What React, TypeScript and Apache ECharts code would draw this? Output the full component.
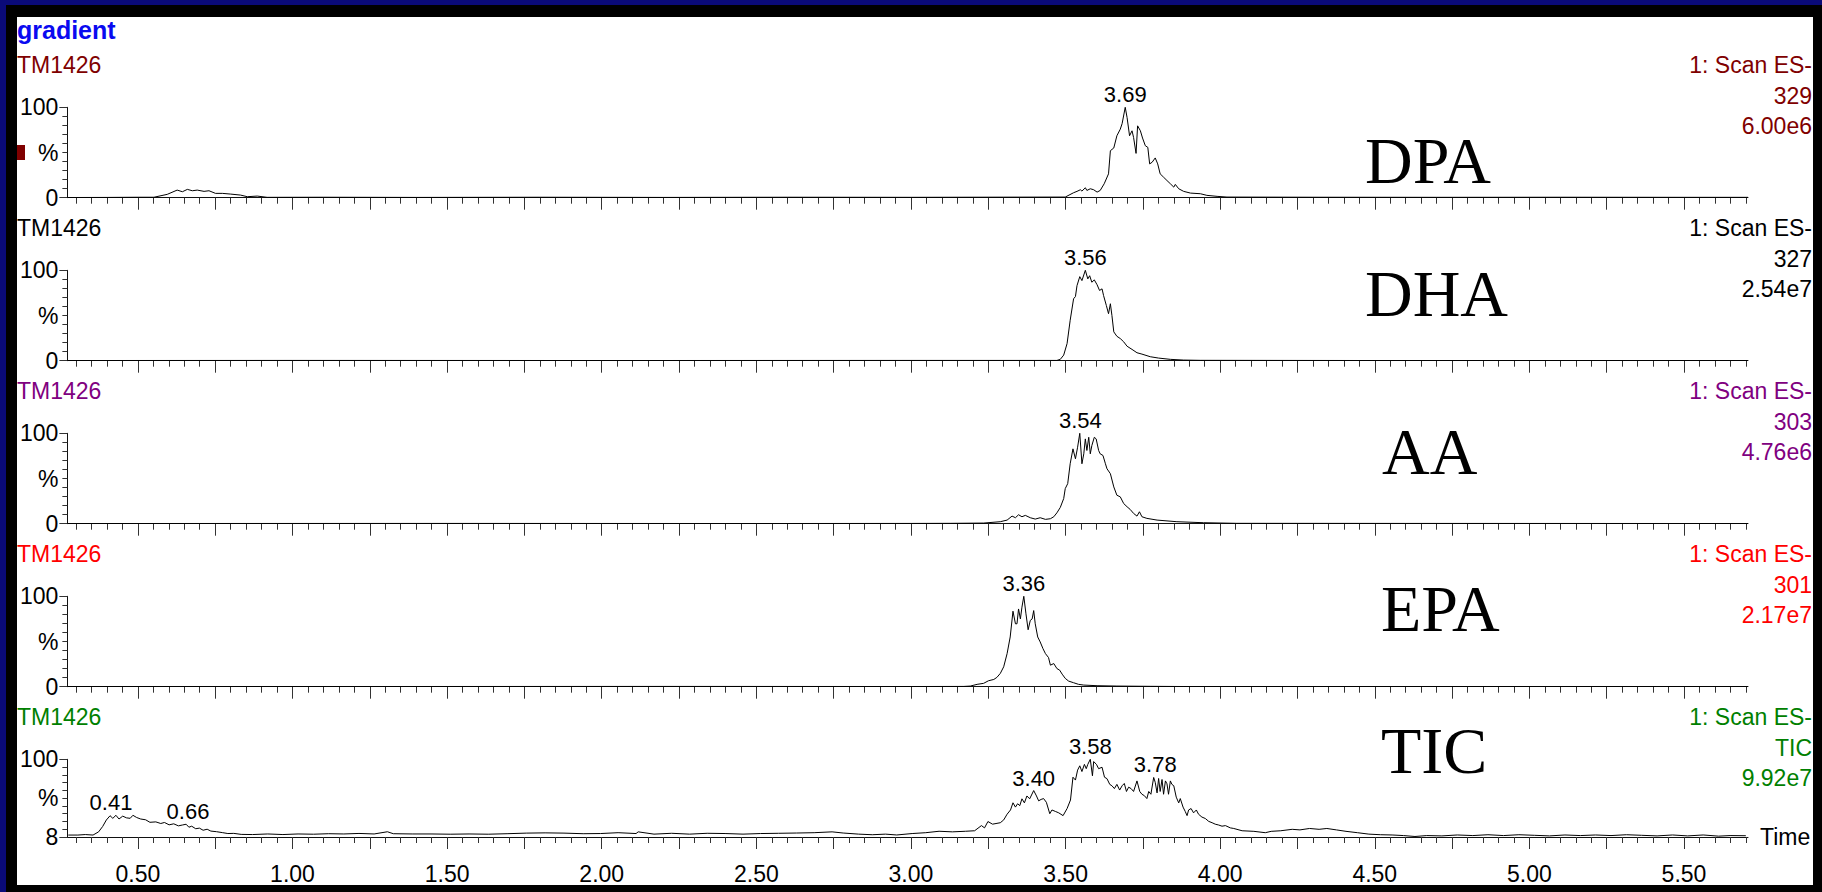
import React, { useEffect, useRef } from "react";
import * as echarts from "echarts";

// ---------------- data ----------------
const X_MIN = 0.272;
const X_MAX = 5.707;

const channelNames = ["DPA", "DHA", "AA", "EPA", "TIC"];
const sampleLabel = "TM1426";
const scanLabel = "1: Scan ES-";
const massLabels = ["329", "327", "303", "301", "TIC"];
const intensityLabels = ["6.00e6", "2.54e7", "4.76e6", "2.17e7", "9.92e7"];
const panelColors = ["#800000", "#000000", "#800080", "#ff0000", "#008000"];
const yBottomLabels = ["0", "0", "0", "0", "8"];
const yMinValues = [0, 0, 0, 0, 8];
const xLabelValues = [0.5, 1.0, 1.5, 2.0, 2.5, 3.0, 3.5, 4.0, 4.5, 5.0, 5.5];
const xMajorTickValues = [
  0.5, 0.75, 1.0, 1.25, 1.5, 1.75, 2.0, 2.25, 2.5, 2.75, 3.0, 3.25, 3.5, 3.75,
  4.0, 4.25, 4.5, 4.75, 5.0, 5.25, 5.5,
];

const dpaTrace = [
  [0.272, 0.2], [0.4, 0.3], [0.5, 0.5], [0.552, 0.5], [0.595, 3.7], [0.627, 8.4],
  [0.644, 6.6], [0.66, 9.2], [0.676, 7.7], [0.692, 8.4], [0.714, 7.0], [0.73, 7.7],
  [0.751, 4.8], [0.773, 4.8], [0.8, 4.0], [0.832, 2.9], [0.854, 1.1], [0.886, 1.8],
  [0.918, 0.4], [1.1, 0.5], [1.4, 0.3], [1.8, 0.5], [2.2, 0.3], [2.6, 0.5], [3.0, 0.4],
  [3.3, 0.6], [3.499, 0.7], [3.526, 5.5], [3.537, 7.0], [3.548, 8.8], [3.553, 7.3],
  [3.564, 11.0], [3.569, 8.0], [3.58, 9.9], [3.591, 8.8], [3.602, 6.2], [3.612, 8.0],
  [3.625, 15.4], [3.639, 26.4], [3.645, 52], [3.656, 55], [3.666, 68.5], [3.677, 75.8],
  [3.683, 82], [3.693, 100], [3.699, 88.6], [3.707, 68.5], [3.715, 74], [3.72, 66.7],
  [3.728, 49], [3.733, 79.5], [3.742, 74], [3.749, 66], [3.758, 57.5], [3.766, 55.7],
  [3.772, 37.4], [3.78, 39.2], [3.79, 44], [3.798, 37.4], [3.806, 26.4], [3.817, 22.7],
  [3.828, 19], [3.839, 15.4], [3.85, 11.7], [3.855, 14.7], [3.866, 9.9], [3.882, 7.0],
  [3.904, 5.1], [3.936, 4.4], [3.957, 2.6], [3.99, 1.5], [4.022, 0.7], [4.3, 0.5],
  [4.7, 0.4], [5.1, 0.5], [5.5, 0.4], [5.707, 0.4],
];

const dhaTrace = [
  [0.272, 0.2], [1.0, 0.3], [2.0, 0.2], [3.0, 0.3], [3.472, 0.3], [3.483, 1.5],
  [3.494, 6.2], [3.505, 19], [3.515, 44.7], [3.526, 68.5], [3.532, 71], [3.537, 83],
  [3.546, 93], [3.553, 88.6], [3.564, 100], [3.572, 90.5], [3.578, 94], [3.585, 86.8],
  [3.593, 89.4], [3.602, 84], [3.61, 77.7], [3.618, 79.5], [3.623, 72], [3.632, 61],
  [3.639, 52], [3.645, 63], [3.65, 50], [3.656, 31.9], [3.666, 27], [3.677, 24.5],
  [3.688, 20.9], [3.699, 16], [3.715, 12.5], [3.731, 8.8], [3.747, 7.3], [3.774, 4.4],
  [3.801, 2.9], [3.839, 1.5], [3.882, 0.7], [3.936, 0.4], [4.5, 0.2], [5.707, 0.2],
];

const aaTrace = [
  [0.272, 0.2], [1.5, 0.3], [2.5, 0.2], [3.0, 0.3], [3.128, 0.4], [3.235, 0.7],
  [3.289, 2.2], [3.311, 4], [3.327, 8.4], [3.338, 6.6], [3.348, 9.9], [3.359, 7.7],
  [3.37, 9.2], [3.386, 6.6], [3.402, 5.1], [3.418, 6.6], [3.435, 4.8], [3.451, 5.5],
  [3.462, 7.7], [3.472, 12], [3.483, 18], [3.494, 27.8], [3.499, 38.8], [3.507, 44.3],
  [3.515, 66.3], [3.524, 82.8], [3.532, 71.8], [3.539, 84.6], [3.546, 100], [3.553, 66.3],
  [3.559, 77.3], [3.564, 93.8], [3.569, 81], [3.575, 95.6], [3.58, 77.3], [3.585, 86.4],
  [3.593, 95.6], [3.599, 93.8], [3.607, 81], [3.612, 77.3], [3.621, 75.5], [3.629, 66.3],
  [3.634, 60.8], [3.645, 55.3], [3.656, 40.7], [3.666, 31.5], [3.677, 29.7], [3.688, 22.3],
  [3.699, 18.7], [3.709, 15.8], [3.72, 11.4], [3.731, 8.4], [3.739, 13.2], [3.747, 7.7],
  [3.763, 5.9], [3.796, 4], [3.86, 2.2], [3.946, 1.1], [4.054, 0.4], [4.6, 0.3], [5.707, 0.2],
];

const epaTrace = [
  [0.272, 0.2], [1.2, 0.2], [2.2, 0.3], [3.0, 0.2], [3.171, 0.3], [3.192, 0.7],
  [3.214, 2.6], [3.235, 3.7], [3.251, 6.6], [3.268, 8], [3.278, 10.3], [3.289, 14.7],
  [3.3, 22], [3.311, 36.6], [3.321, 55], [3.33, 83.5], [3.338, 69.6], [3.343, 69.6],
  [3.348, 86], [3.354, 75], [3.359, 88], [3.365, 100], [3.372, 80.6], [3.379, 63],
  [3.386, 73.3], [3.392, 75], [3.397, 84.2], [3.402, 69.6], [3.41, 55], [3.418, 49.5],
  [3.427, 42.1], [3.435, 36.6], [3.445, 32.2], [3.451, 23.8], [3.462, 25.6], [3.472, 20.1],
  [3.481, 18.3], [3.489, 13.9], [3.499, 9.2], [3.51, 6.2], [3.526, 4.4], [3.542, 2.6],
  [3.559, 1.8], [3.602, 1.1], [3.666, 0.7], [3.774, 0.4], [3.882, 0.2], [4.8, 0.2], [5.707, 0.2],
];

const ticTrace = [
  [0.275, 10.3], [0.306, 10.3], [0.33, 10.9], [0.355, 10.3], [0.373, 14.1], [0.386, 20.4],
  [0.398, 28.1], [0.41, 33.2], [0.419, 30.1], [0.429, 33.7], [0.439, 29.3], [0.451, 32.7],
  [0.463, 30.7], [0.475, 30.1], [0.484, 33.7], [0.496, 31.1], [0.509, 29.3], [0.525, 28.4],
  [0.539, 25.4], [0.558, 25.9], [0.574, 24.0], [0.586, 25.2], [0.601, 22.4], [0.616, 23.6],
  [0.631, 21.2], [0.644, 22.2], [0.656, 23.1], [0.665, 19.6], [0.674, 20.8], [0.687, 17.8],
  [0.699, 18.5], [0.711, 16.0], [0.724, 17.2], [0.736, 15.0], [0.754, 14.3], [0.773, 13.2],
  [0.791, 12.1], [0.81, 12.3], [0.834, 11.1], [0.871, 10.9], [0.92, 11.6], [0.969, 10.9],
  [1.018, 11.6], [1.068, 11.3], [1.117, 11.9], [1.166, 11.6], [1.215, 12.2], [1.264, 11.6],
  [1.307, 14.2], [1.326, 11.9], [1.387, 11.6], [1.448, 11.6], [1.51, 11.3], [1.571, 11.6],
  [1.633, 11.3], [1.694, 11.9], [1.756, 12.6], [1.817, 12.9], [1.878, 12.6], [1.94, 11.9],
  [1.996, 12.1], [2.053, 13.1], [2.111, 12.1], [2.118, 14.1], [2.169, 11.4], [2.226, 12.4],
  [2.284, 11.4], [2.341, 12.4], [2.399, 12.1], [2.457, 11.4], [2.514, 12.1], [2.572, 12.4],
  [2.63, 12.7], [2.687, 13.1], [2.745, 14.1], [2.781, 12.7], [2.831, 11.4], [2.875, 10.7],
  [2.918, 11.4], [2.954, 10.4], [3.004, 12.1], [3.048, 13.1], [3.091, 14.8], [3.134, 14.1],
  [3.177, 14.8], [3.206, 15.4], [3.228, 21.5], [3.238, 18.8], [3.249, 26.3], [3.264, 23.2],
  [3.289, 24.9], [3.3, 28.2], [3.311, 35], [3.322, 40], [3.33, 48.5], [3.338, 43.4],
  [3.345, 47.4], [3.352, 45.1], [3.359, 53.2], [3.367, 48.4], [3.375, 56.6], [3.384, 53.2],
  [3.397, 63], [3.406, 56.6], [3.413, 50.8], [3.421, 52.5], [3.429, 53.5], [3.438, 49.1],
  [3.449, 35.6], [3.456, 40], [3.467, 38.3], [3.478, 36.6], [3.492, 33.3], [3.505, 41.7],
  [3.516, 51.8], [3.524, 78.8], [3.532, 75.4], [3.539, 87.2], [3.546, 92.3], [3.553, 85.5],
  [3.561, 94], [3.567, 88.9], [3.572, 94], [3.58, 100], [3.587, 80.5], [3.591, 97.3],
  [3.6, 94], [3.607, 88.9], [3.618, 90.6], [3.626, 78.8], [3.634, 77.1], [3.643, 70.3],
  [3.65, 68.7], [3.658, 65.3], [3.666, 70.3], [3.675, 63.6], [3.683, 68.7], [3.69, 71.4],
  [3.697, 61.9], [3.704, 67], [3.712, 65.3], [3.72, 61.9], [3.731, 74.4], [3.74, 61.9],
  [3.747, 58.6], [3.755, 56.9], [3.763, 53.5], [3.769, 61.9], [3.776, 58.6], [3.785, 78.5],
  [3.79, 72.7], [3.796, 60.2], [3.801, 77.3], [3.806, 61.9], [3.812, 76.1], [3.817, 58.6],
  [3.823, 74.4], [3.828, 71], [3.833, 58.6], [3.839, 74.4], [3.844, 70.3], [3.85, 68.7],
  [3.858, 55.2], [3.866, 48.4], [3.871, 53.5], [3.88, 43.4], [3.887, 38.3], [3.893, 33.3],
  [3.898, 40], [3.906, 41.7], [3.914, 36.6], [3.923, 40], [3.93, 35], [3.941, 31.6],
  [3.952, 29.9], [3.963, 26.5], [3.974, 24.9], [3.984, 23.2], [3.995, 22.2], [4.006, 20.8],
  [4.017, 21.5], [4.033, 18.8], [4.044, 18.1], [4.071, 15.4], [4.109, 14.7], [4.146, 13.1],
  [4.165, 14.7], [4.196, 15.4], [4.233, 17.1], [4.258, 16.4], [4.289, 18.1], [4.32, 17.1],
  [4.345, 18.1], [4.376, 16.4], [4.407, 14.7], [4.444, 13.1], [4.481, 11.4], [4.519, 10.7],
  [4.556, 10.4], [4.593, 9.7], [4.63, 8.6], [4.668, 9.7], [4.717, 9.3], [4.767, 10.4],
  [4.817, 9.7], [4.866, 10.7], [4.916, 9.7], [4.966, 10.7], [5.016, 10], [5.065, 9.3],
  [5.115, 10.4], [5.165, 9.7], [5.214, 10.4], [5.264, 9.7], [5.314, 10.7], [5.363, 10],
  [5.413, 9.3], [5.463, 10.4], [5.512, 9.3], [5.562, 10.4], [5.612, 9], [5.649, 9.7],
  [5.7, 9.5],
];

// peak labels: [text, time, height]
const dpaPeaks = [["3.69", 3.693, 100]];
const dhaPeaks = [["3.56", 3.564, 100]];
const aaPeaks = [["3.54", 3.548, 100]];
const epaPeaks = [["3.36", 3.365, 100]];
const ticPeaks = [
  ["0.41", 0.413, 33.7],
  ["0.66", 0.662, 23.1],
  ["3.40", 3.397, 62],
  ["3.58", 3.58, 100],
  ["3.78", 3.79, 78],
];

const traces = [dpaTrace, dhaTrace, aaTrace, epaTrace, ticTrace];
const peaks = [dpaPeaks, dhaPeaks, aaPeaks, epaPeaks, ticPeaks];

// ---------------- layout ----------------
const SANS = '"Liberation Sans", Arial, Helvetica, sans-serif';
const SERIF = '"Liberation Serif", "Times New Roman", serif';
const GRID_LEFT = 49.7;
const GRID_WIDTH = 1681.3;
const PANEL_TOP0 = 90.3;
const PANEL_STEP = 163;
const PANEL_H = 90.4;
const RIGHT_EDGE = 1795;
const bigLabelPos = [
  [1348, 143],
  [1348, 276],
  [1365, 434],
  [1364, 591],
  [1364, 733],
];

function buildOption() {
  const minorTicks: number[] = [];
  for (let i = 6; i <= 114; i++) minorTicks.push(Math.round(i * 5) / 100);

  const grids: any[] = [];
  const xAxes: any[] = [];
  const yAxes: any[] = [];
  const series: any[] = [];
  const graphics: any[] = [];

  for (let k = 0; k < 5; k++) {
    const top = PANEL_TOP0 + PANEL_STEP * k;
    grids.push({ left: GRID_LEFT, width: GRID_WIDTH, top, height: PANEL_H, containLabel: false });
    const isLast = k === 4;
    xAxes.push({
      gridIndex: k,
      type: "value",
      position: "bottom",
      min: X_MIN,
      max: X_MAX,
      axisLine: { show: true, onZero: false, lineStyle: { color: "#111", width: 1 } },
      axisTick: { show: true, customValues: xMajorTickValues, length: 12, lineStyle: { color: "#333", width: 1 } },
      axisLabel: {
        show: isLast,
        customValues: xLabelValues,
        formatter: (v: number) => v.toFixed(2),
        fontSize: 23,
        fontFamily: SANS,
        color: "#000",
        margin: 25,
      },
      splitLine: { show: false },
      name: isLast ? "Time" : "",
      nameLocation: "end",
      nameGap: 12,
      nameTextStyle: { fontSize: 23, fontFamily: SANS, color: "#000" },
    });
    xAxes.push({
      gridIndex: k,
      type: "value",
      position: "bottom",
      min: X_MIN,
      max: X_MAX,
      axisLine: { show: false, onZero: false },
      axisTick: { show: true, customValues: minorTicks, length: 6, lineStyle: { color: "#333", width: 1 } },
      axisLabel: { show: false },
      splitLine: { show: false },
    });
    const bottomLabel = yBottomLabels[k];
    yAxes.push({
      gridIndex: k,
      type: "value",
      position: "left",
      min: 0,
      max: 100,
      interval: 10,
      axisLine: { show: true, onZero: false, lineStyle: { color: "#111", width: 1 } },
      axisTick: { show: true, length: 5, lineStyle: { color: "#333", width: 1 } },
      axisLabel: {
        show: true,
        formatter: (v: number) => (v === 100 ? "100" : v === 50 ? "%" : v === 0 ? bottomLabel : ""),
        fontSize: 23,
        fontFamily: SANS,
        color: "#000",
        margin: 9,
      },
      splitLine: { show: false },
    });
    yAxes.push({
      gridIndex: k,
      type: "value",
      position: "left",
      min: 0,
      max: 100,
      interval: 100,
      axisLine: { show: false },
      axisTick: { show: true, length: 8, lineStyle: { color: "#333", width: 1 } },
      axisLabel: { show: false },
      splitLine: { show: false },
    });
    yAxes.push({
      gridIndex: k,
      type: "value",
      position: "left",
      min: yMinValues[k],
      max: 100,
      show: false,
      splitLine: { show: false },
    });

    series.push({
      type: "line",
      name: channelNames[k],
      xAxisIndex: k * 2,
      yAxisIndex: k * 3 + 2,
      data: traces[k],
      showSymbol: false,
      symbol: "none",
      lineStyle: { color: "#000", width: 1 },
      itemStyle: { color: "#000" },
      z: 5,
      markPoint: {
        symbol: "circle",
        symbolSize: 0,
        silent: true,
        itemStyle: { color: "transparent" },
        label: {
          show: true,
          position: "top",
          distance: 2,
          formatter: "{b}",
          fontSize: 22,
          fontFamily: SANS,
          color: "#000",
        },
        data: peaks[k].map((p: any) => ({ name: p[0], coord: [p[1], p[2]] })),
      },
    });

    // header texts
    const color = panelColors[k];
    const base = 48.3 + PANEL_STEP * k;
    graphics.push({
      type: "text",
      x: 0,
      y: base,
      z: 10,
      style: { text: sampleLabel, fill: color, fontSize: 23, fontFamily: SANS, align: "left", verticalAlign: "middle" },
    });
    graphics.push({
      type: "text",
      x: RIGHT_EDGE,
      y: base,
      z: 10,
      style: { text: scanLabel, fill: color, fontSize: 23, fontFamily: SANS, align: "right", verticalAlign: "middle" },
    });
    graphics.push({
      type: "text",
      x: RIGHT_EDGE,
      y: base + 30.7,
      z: 10,
      style: { text: massLabels[k], fill: color, fontSize: 23, fontFamily: SANS, align: "right", verticalAlign: "middle" },
    });
    graphics.push({
      type: "text",
      x: RIGHT_EDGE,
      y: base + 61,
      z: 10,
      style: { text: intensityLabels[k], fill: color, fontSize: 23, fontFamily: SANS, align: "right", verticalAlign: "middle" },
    });
    graphics.push({
      type: "text",
      x: bigLabelPos[k][0],
      y: bigLabelPos[k][1],
      z: 10,
      style: { text: channelNames[k], fill: "#000", fontSize: 66, fontFamily: SERIF, align: "left", verticalAlign: "middle" },
    });
  }

  graphics.push({
    type: "text",
    x: 0,
    y: 12.5,
    z: 10,
    style: { text: "gradient", fill: "#0a0af0", fontSize: 25, fontWeight: "bold", fontFamily: SANS, align: "left", verticalAlign: "middle" },
  });
  graphics.push({
    type: "rect",
    z: 10,
    shape: { x: 0, y: 128, width: 8, height: 15 },
    style: { fill: "#800000" },
  });

  return {
    animation: false,
    backgroundColor: "#ffffff",
    textStyle: { fontFamily: SANS },
    grid: grids,
    xAxis: xAxes,
    yAxis: yAxes,
    series,
    graphic: graphics,
  };
}

export default function App() {
  const ref = useRef<HTMLDivElement>(null);
  useEffect(() => {
    if (!ref.current) return;
    const chart = echarts.init(ref.current, null, { renderer: "svg" });
    chart.setOption(buildOption() as any);
    return () => chart.dispose();
  }, []);
  return (
    <div style={{ position: "fixed", left: 0, top: 0, width: 1822, height: 892, background: "#0a0a78", overflow: "hidden" }}>
      <div style={{ position: "absolute", left: 6, top: 5, width: 1816, height: 887, background: "#000" }} />
      <div
        ref={ref}
        style={{ position: "absolute", left: 17, top: 17, width: 1796, height: 868, background: "#fff", overflow: "hidden" }}
      />
    </div>
  );
}
